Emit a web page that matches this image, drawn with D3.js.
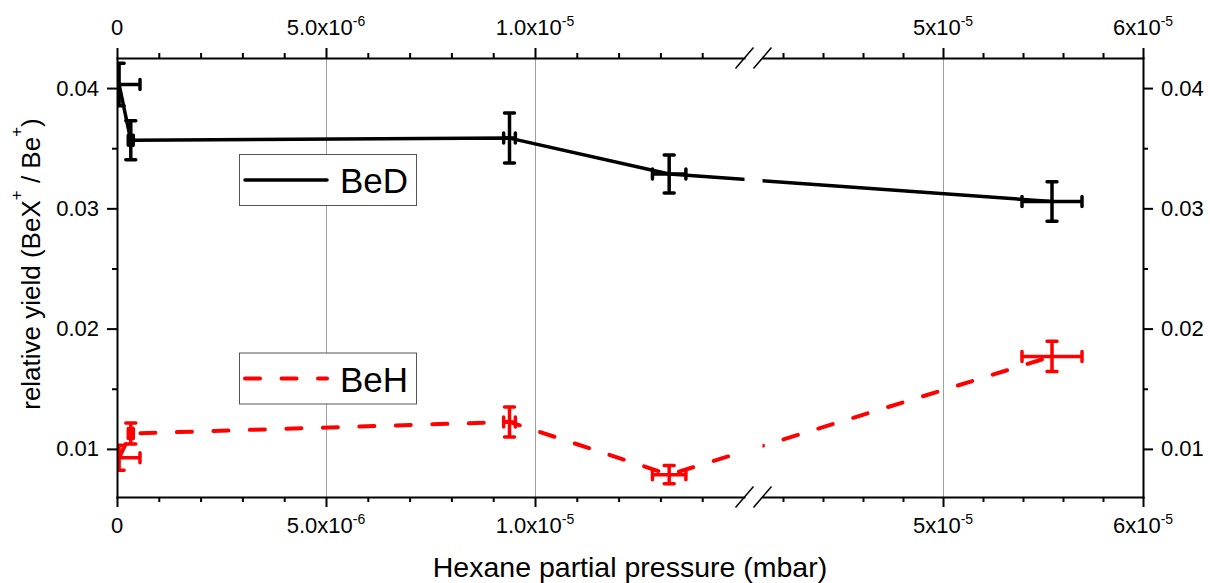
<!DOCTYPE html>
<html>
<head>
<meta charset="utf-8">
<script src="https://cdn.jsdelivr.net/npm/d3@7"></script>
<style>
  body { margin: 0; background: #fff; }
  svg text { font-family: "Liberation Sans", Arial, sans-serif; fill: #000; }
</style>
</head>
<body>
<svg id="chart" width="1210" height="583"></svg>
<script>
// Hexane partial pressure (mbar) of each measurement and its uncertainty
const pressure    = [0.05e-6, 0.33e-6, 9.39e-6, 13.21e-6, 55.45e-6];
const pressureErr = [0.5e-6, 0.06e-6, 0.14e-6, 0.4e-6, 1.5e-6];

// Relative yields BeX+ / Be+
const beD    = [0.0403, 0.03566, 0.03584, 0.03285, 0.03057];
const beDErr = [0.00176, 0.00162, 0.00208, 0.00158, 0.00164];
const beH    = [0.00927, 0.01128, 0.01224, 0.00786, 0.01769];
const beHErr = [0.00104, 0.00087, 0.00125, 0.00075, 0.00125];

// Broken x axis: two segments
const xDomainLow  = [0, 1.5e-5];
const xDomainHigh = [4.1e-5, 6e-5];
const yDomain     = [0.006, 0.0425];

const xMajorLow   = [0, 5e-6, 1e-5];
const xLabelsLow  = [["0", ""], ["5.0x10", "-6"], ["1.0x10", "-5"]];
const xMinorLow   = [1e-6, 2e-6, 3e-6, 4e-6, 6e-6, 7e-6, 8e-6, 9e-6, 1.1e-5, 1.2e-5, 1.3e-5, 1.4e-5];
const xMajorHigh  = [5e-5, 6e-5];
const xLabelsHigh = [["5x10", "-5"], ["6x10", "-5"]];
const xMinorHigh  = [4.2e-5, 4.4e-5, 4.6e-5, 4.8e-5, 5.2e-5, 5.4e-5, 5.6e-5, 5.8e-5];
const xGrid       = [5e-6, 1e-5, 5e-5];

const yMajor = [0.01, 0.02, 0.03, 0.04];
const yMinor = [0.015, 0.025, 0.035];

// Plot frame
const pLeft = 117, pRight = 1143, pTop = 58, pBottom = 497;
const breakL = 744.5, breakR = 762.5;

const svg = d3.select("#chart");

const xLow  = d3.scaleLinear().domain(xDomainLow).range([pLeft, 744]);
const xHigh = d3.scaleLinear().domain(xDomainHigh).range([763, pRight]);
const X = v => (v <= xDomainLow[1] ? xLow(v) : xHigh(v));
const y = d3.scaleLinear().domain(yDomain).range([pBottom, pTop]);

const FONT = "'Liberation Sans', Arial, sans-serif";

// grid lines
svg.append("g").selectAll("line").data(xGrid).join("line")
  .attr("x1", d => Math.round(X(d)) + 0.5).attr("x2", d => Math.round(X(d)) + 0.5)
  .attr("y1", pTop).attr("y2", pBottom)
  .attr("stroke", "#a0a0a0").attr("stroke-width", 1);

// clip: plot area minus the break gap
const defs = svg.append("defs");
const clip = defs.append("clipPath").attr("id", "plotClip");
clip.append("rect").attr("x", pLeft).attr("y", pTop).attr("width", breakL - pLeft).attr("height", pBottom - pTop);
clip.append("rect").attr("x", breakR).attr("y", pTop).attr("width", pRight - breakR).attr("height", pBottom - pTop);

const plot = svg.append("g").attr("clip-path", "url(#plotClip)");

function drawSeries(values, errs, color, width, dash) {
  const pts = pressure.map((p, i) => ({ p, pe: pressureErr[i], v: values[i], ve: errs[i] }));
  const line = d3.line().x(d => X(d.p)).y(d => y(d.v));
  const path = plot.append("path").datum(pts)
    .attr("d", line).attr("fill", "none")
    .attr("stroke", color).attr("stroke-width", width)
    .attr("stroke-linejoin", "round");
  if (dash) path.attr("stroke-dasharray", dash).attr("stroke-linecap", "round");

  const cap = 5;
  const eb = plot.append("g").attr("stroke", color).attr("stroke-width", 3.5)
    .attr("stroke-linecap", "round").attr("fill", "none");
  pts.forEach(d => {
    const cx = X(d.p), cy = y(d.v);
    const y0 = y(d.v - d.ve), y1 = y(d.v + d.ve);
    const x0 = X(d.p - d.pe), x1 = X(d.p + d.pe);
    eb.append("path").attr("d",
      `M${cx},${y0}V${y1}` +
      `M${cx - cap},${y0}H${cx + cap}M${cx - cap},${y1}H${cx + cap}` +
      `M${x0},${cy}H${x1}` +
      `M${x0},${cy - cap}V${cy + cap}M${x1},${cy - cap}V${cy + cap}`);
  });
}

drawSeries(beD, beDErr, "#000000", 3.5, null);
drawSeries(beH, beHErr, "#ff0000", 4, "15,21.5");

// legends
function legend(x, yTop, label, color, dash) {
  const g = svg.append("g");
  g.append("rect").attr("x", x + 0.5).attr("y", yTop + 0.5).attr("width", 177).attr("height", 51)
    .attr("fill", "#fff").attr("stroke", "#555").attr("stroke-width", 1);
  const ln = g.append("line").attr("x1", x + 6).attr("x2", x + 88)
    .attr("y1", yTop + 26).attr("y2", yTop + 26)
    .attr("stroke", color).attr("stroke-width", dash ? 4 : 3.5).attr("stroke-linecap", "round");
  if (dash) ln.attr("stroke-dasharray", dash);
  g.append("text").attr("x", x + 101).attr("y", yTop + 39)
    .attr("font-size", 35).text(label);
}
legend(239, 154, "BeD", "#000000", null);
legend(239, 352.5, "BeH", "#ff0000", "15,21.5");

// axes
function styleAxis(g) {
  g.attr("font-family", FONT);
  g.selectAll("path, line").attr("stroke", "#000").attr("stroke-width", 2);
  g.select(".domain").attr("stroke-linecap", "square");
}

function xAxes(scale, majors, minors, labels) {
  const gt = svg.append("g").attr("transform", `translate(0,${pTop})`);
  gt.call(d3.axisTop(scale).tickValues(majors).tickSize(10).tickSizeOuter(0).tickFormat(""));
  gt.append("g").call(d3.axisTop(scale).tickValues(minors).tickSize(5).tickSizeOuter(0).tickFormat(""))
    .select(".domain").remove();
  styleAxis(gt);
  const gb = svg.append("g").attr("transform", `translate(0,${pBottom})`);
  gb.call(d3.axisBottom(scale).tickValues(majors).tickSize(10).tickSizeOuter(0).tickFormat(""));
  gb.append("g").call(d3.axisBottom(scale).tickValues(minors).tickSize(5).tickSizeOuter(0).tickFormat(""))
    .select(".domain").remove();
  styleAxis(gb);

  [35, 533].forEach(by => {
    majors.forEach((v, i) => {
      const t = svg.append("text").attr("x", scale(v)).attr("y", by)
        .attr("text-anchor", "middle").attr("font-size", 22);
      t.append("tspan").text(labels[i][0]);
      if (labels[i][1]) t.append("tspan").attr("font-size", 14).attr("dy", -9).text(labels[i][1]);
    });
  });
}
xAxes(xLow, xMajorLow, xMinorLow, xLabelsLow);
xAxes(xHigh, xMajorHigh, xMinorHigh, xLabelsHigh);

// break marks
[pTop, pBottom].forEach(ay => {
  [breakL, breakR].forEach(bx => {
    svg.append("line")
      .attr("x1", bx - 9).attr("y1", ay + 10.5)
      .attr("x2", bx + 9).attr("y2", ay - 10.5)
      .attr("stroke", "#000").attr("stroke-width", 1.5);
  });
});

const yl = svg.append("g").attr("transform", `translate(${pLeft},0)`);
yl.call(d3.axisLeft(y).tickValues(yMajor).tickSize(10).tickPadding(8).tickSizeOuter(0).tickFormat(d3.format(".2f")));
yl.append("g").call(d3.axisLeft(y).tickValues(yMinor).tickSize(5).tickSizeOuter(0).tickFormat(""))
  .select(".domain").remove();
styleAxis(yl);
yl.selectAll("text").attr("font-size", 22);

const yr = svg.append("g").attr("transform", `translate(${pRight},0)`);
yr.call(d3.axisRight(y).tickValues(yMajor).tickSize(10).tickPadding(8).tickSizeOuter(0).tickFormat(d3.format(".2f")));
yr.append("g").call(d3.axisRight(y).tickValues(yMinor).tickSize(5).tickSizeOuter(0).tickFormat(""))
  .select(".domain").remove();
styleAxis(yr);
yr.selectAll("text").attr("font-size", 22);

// axis titles
svg.append("text").attr("x", (pLeft + pRight) / 2).attr("y", 577)
  .attr("text-anchor", "middle").attr("font-size", 28.5)
  .text("Hexane partial pressure (mbar)");

const yt = svg.append("text")
  .attr("transform", "translate(40,264) rotate(-90)")
  .attr("text-anchor", "middle").attr("font-size", 26);
yt.append("tspan").text("relative yield (BeX");
yt.append("tspan").attr("font-size", 17).attr("dy", -18).text("+");
yt.append("tspan").attr("dy", 18).text(" / Be");
yt.append("tspan").attr("font-size", 17).attr("dy", -18).text("+");
yt.append("tspan").attr("dy", 18).text(")");
</script>
</body>
</html>
